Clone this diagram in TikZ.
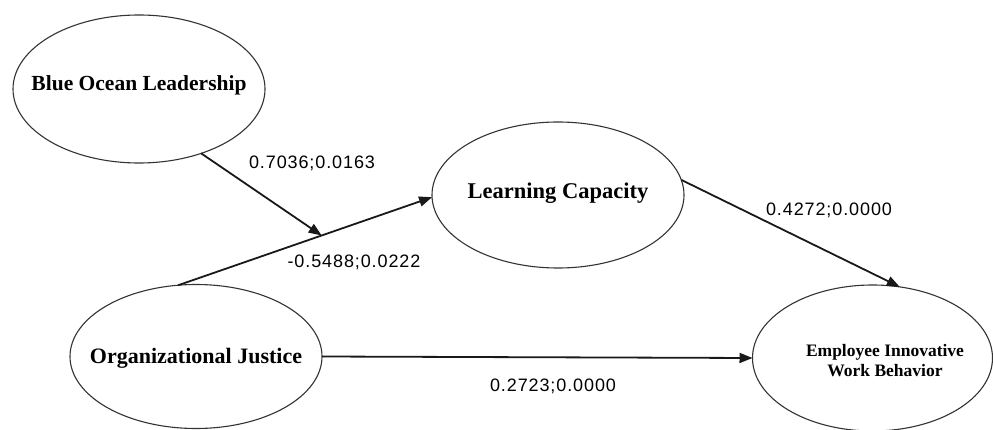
\documentclass[tikz,border=0pt]{standalone}
\usepackage{fontspec}
\setmainfont{Liberation Serif}
\newfontfamily\labfont[LetterSpace=5]{Liberation Sans}
\usetikzlibrary{shapes.geometric,arrows.meta}
\begin{document}
\begin{tikzpicture}[x=1pt,y=-1pt,
  latent/.style={draw=black!80,line width=1.1pt,ellipse,inner sep=0pt,outer sep=0pt},
  ltext/.style={inner sep=0pt,align=center,font=\bfseries},
  path/.style={draw=black!90,line width=1.8pt,-{Triangle[length=13pt,width=10pt]}},
  coef/.style={font=\labfont\fontsize{18}{20}\selectfont,inner sep=0pt}]
\useasboundingbox (0,0) rectangle (993,430);
\node[latent,minimum width=252pt,minimum height=148pt] (bol) at (139,89) {};
\node[latent,minimum width=252pt,minimum height=146pt] (lc) at (558,195) {};
\node[latent,minimum width=252pt,minimum height=144pt] (oj) at (196,356.5) {};
\node[latent,minimum width=240pt,minimum height=146pt] (eiwb) at (872.5,358) {};
\node[ltext,font=\bfseries\fontsize{21.5}{24}\selectfont] (bolt) at (139,85) {Blue Ocean Leadership};
\node[ltext,font=\bfseries\fontsize{22.5}{26}\selectfont] (lct) at (558,193) {Learning Capacity};
\node[ltext,font=\bfseries\fontsize{22}{26}\selectfont] (ojt) at (196,358) {Organizational Justice};
\node[ltext,font=\bfseries\fontsize{17.5}{20}\selectfont] (eiwbt) at (885,361) {Employee Innovative\\Work Behavior};
\draw[path] (oj.104.9) -- coordinate[pos=0.565] (m) (lc.181);
\draw[path] (bol.-46.9) -- (m);
\draw[path] (lc.7.2) -- (eiwb.69.5);
\draw[path] (oj.0) -- (eiwb.180);
\node[coef] (l1) at (312,163) {0.7036;0.0163};
\node[coef] (l2) at (354,262) {-0.5488;0.0222};
\node[coef] (l3) at (829,210) {0.4272;0.0000};
\node[coef] (l4) at (553,386) {0.2723;0.0000};
\end{tikzpicture}
\end{document}
